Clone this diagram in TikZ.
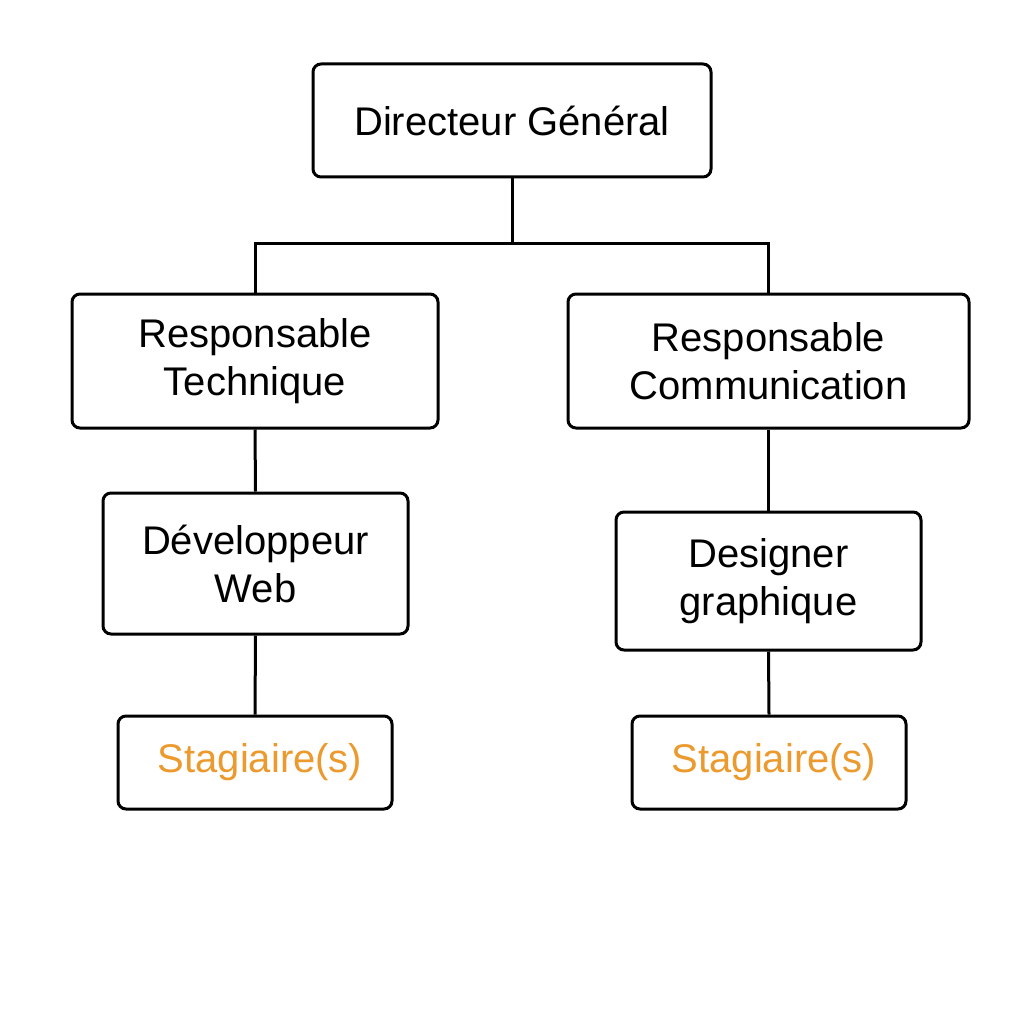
\documentclass[tikz,border=0pt]{standalone}
\usepackage{fontspec}
\setmainfont{Liberation Sans}
\definecolor{stagecolor}{RGB}{236,153,45}
\newlength{\du}
\setlength{\du}{1pt}
\tikzset{
  posteBox/.style={draw=black, line width=3\du, rounded corners=8\du, fill=white,
    align=center, inner sep=0pt, font=\fontsize{40}{48}\selectfont},
  lien/.style={line width=3\du, black}
}
\begin{document}
\begin{tikzpicture}
\pgftransformxscale{1.000000}
\pgftransformyscale{-1.000000}
\fill[white] (0\du,0\du) rectangle (1024\du,1024\du);
\useasboundingbox (0\du,0\du) rectangle (1024\du,1024\du);
% postes
\node[posteBox, minimum width=398\du, minimum height=113\du] (dg) at (512\du,120.5\du){Directeur Général};
\node[posteBox, minimum width=366\du, minimum height=134\du] (rt) at (255\du,361\du){Responsable\\Technique};
\node[posteBox, minimum width=401\du, minimum height=134\du] (rc) at (768.5\du,361\du){Responsable\\Communication};
\node[posteBox, minimum width=305\du, minimum height=141\du] (dw) at (255.5\du,563.5\du){Développeur\\Web};
\node[posteBox, minimum width=305\du, minimum height=138\du] (dgr) at (768.5\du,581\du){Designer\\graphique};
\node[posteBox, minimum width=274\du, minimum height=93\du, text=stagecolor] (st1) at (255\du,762.5\du){\hspace{10\du}Stagiaire(s)};
\node[posteBox, minimum width=274\du, minimum height=93\du, text=stagecolor] (st2) at (769\du,762.5\du){\hspace{10\du}Stagiaire(s)};
% liens
\coordinate (bus) at (512\du,243\du);
\draw[lien] (dg.south) -- (bus);
\draw[lien] (bus) -| (rt.north);
\draw[lien] (bus) -| (rc.north);
\draw[lien] (rt.south) -- (dw.north);
\draw[lien] (dw.south) -- (st1.north);
\draw[lien] (rc.south) -- (dgr.north);
\draw[lien] (dgr.south) -- (st2.north);
\end{tikzpicture}
\end{document}
